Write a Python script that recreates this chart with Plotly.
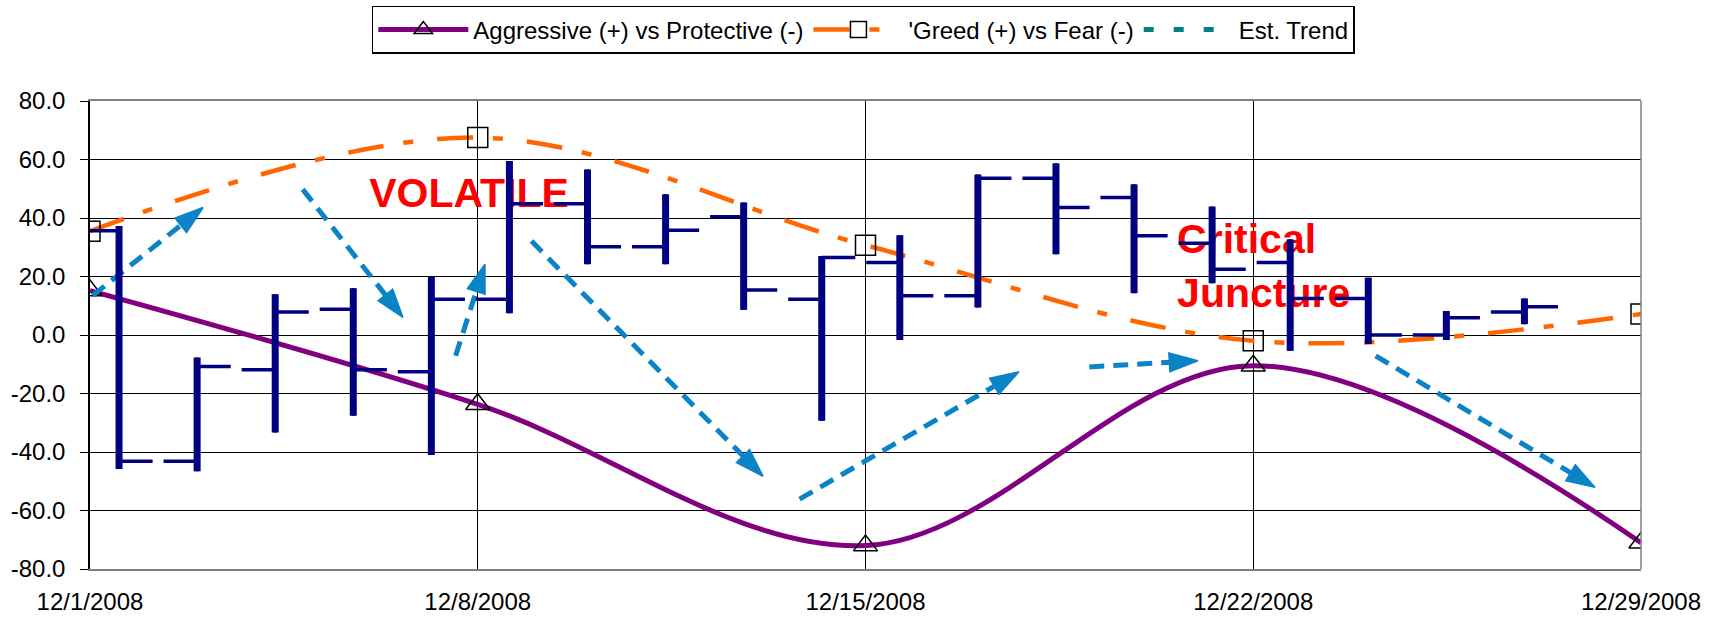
import plotly.graph_objects as go

# ---------------- data ----------------
WEEK_DATES = ["2008-12-01", "2008-12-08", "2008-12-15", "2008-12-22", "2008-12-29"]
WEEK_LABELS = ["12/1/2008", "12/8/2008", "12/15/2008", "12/22/2008", "12/29/2008"]
AGGRESSIVE = [15.2, -23.7, -72.0, -10.5, -71.0]
GREED = [35.5, 67.5, 30.7, -2.0, 7.2]

SESSIONS = list(range(1, 20))
OPEN = [35.6, -43.2, -11.9, 8.8, -12.6, 12.2, 44.9, 30.2, 40.4, 12.2,
        24.8, 13.4, 53.6, 47.0, 31.4, 24.8, 12.5, 0.0, 7.9]
HIGH = [37.3, -7.7, 13.9, 16.0, 19.9, 59.5, 56.6, 48.1, 45.3, 27.0,
        34.1, 54.9, 58.7, 51.5, 43.9, 32.7, 19.6, 8.2, 12.5]
LOW = [-45.8, -46.6, -33.3, -27.6, -41.0, 7.4, 24.2, 24.2, 8.6, -29.3,
       -1.7, 9.4, 27.6, 14.3, 17.7, -5.4, -3.1, -1.7, 3.7]
CLOSE = [-43.2, -10.8, 7.9, -11.9, 12.2, 44.9, 30.2, 35.8, 15.4, 26.5,
         13.4, 53.6, 43.6, 33.9, 22.5, 12.5, 0.0, 5.9, 9.7]

Y_TICKS = [-80, -60, -40, -20, 0, 20, 40, 60, 80]

# trend arrows drawn on the chart: (start date, start value) -> (tip date, tip value)
ARROWS = [
    (("2008-12-01 01:12", 13.5), ("2008-12-03 01:00", 43.6)),
    (("2008-12-04 20:10", 49.8), ("2008-12-06 15:36", 6.0)),
    (("2008-12-07 14:24", -7.1), ("2008-12-08 03:07", 24.2)),
    (("2008-12-08 23:17", 32.1), ("2008-12-13 03:36", -48.3)),
    (("2008-12-13 19:26", -56.1), ("2008-12-17 18:29", -12.6)),
    (("2008-12-19 00:58", -10.9), ("2008-12-21 00:00", -8.8)),
    (("2008-12-24 05:02", -7.1), ("2008-12-28 04:05", -52.1)),
]

LABELS = [
    ("VOLATILE", "2008-12-06 01:00", 47.4),
    ("Critical<br>Juncture", "2008-12-20 15:00", 22.3),
]

FONT = "Arial, 'Liberation Sans', sans-serif"
PURPLE = "#800080"
ORANGE = "#FF6600"
NAVY = "#000080"
ARROW_BLUE = "#0A84C6"
TEAL = "#008080"

fig = go.Figure()

fig.add_trace(go.Scatter(
    x=WEEK_DATES, y=AGGRESSIVE, name="Aggressive (+) vs Protective (-)",
    mode="lines+markers",
    line=dict(color=PURPLE, width=5, shape="spline", smoothing=1.0),
    marker=dict(symbol="triangle-up-open", size=21, color="black",
                line=dict(width=1.5, color="black")),
))
fig.add_trace(go.Scatter(
    x=WEEK_DATES, y=GREED, name="'Greed (+) vs Fear (-)",
    mode="lines+markers",
    line=dict(color=ORANGE, width=4.5, shape="spline", smoothing=1.0,
              dash="36px,20px,10px,24px"),
    marker=dict(symbol="square-open", size=20, color="black",
                line=dict(width=1.5, color="black")),
))
fig.add_trace(go.Scatter(
    x=[None], y=[None], name="Est. Trend", mode="lines",
    line=dict(color=TEAL, width=5, dash="10px,20px"),
))

for (x0, y0), (x1, y1) in ARROWS:
    fig.add_trace(go.Scatter(
        x=[x0, x1], y=[y0, y1], mode="lines+markers", showlegend=False,
        hoverinfo="skip",
        line=dict(color=ARROW_BLUE, width=5, dash="15px,9px"),
        marker=dict(symbol="arrow", size=[0, 30], angleref="previous",
                    color=ARROW_BLUE, opacity=1,
                    line=dict(width=1.5, color=ARROW_BLUE)),
    ))

for text, x, y in LABELS:
    fig.add_trace(go.Scatter(
        x=[x], y=[y], mode="text", text=[text], textposition="middle right",
        textfont=dict(family=FONT, size=41, color="#FF0000", weight="bold"),
        showlegend=False, hoverinfo="skip",
    ))

# high-low bars with open/close ticks (secondary session axis)
fig.add_trace(go.Ohlc(
    x=SESSIONS, open=OPEN, high=HIGH, low=LOW, close=CLOSE,
    xaxis="x2", yaxis="y", tickwidth=0.43, showlegend=False, hoverinfo="skip",
    increasing=dict(line=dict(color=NAVY, width=3.5)),
    decreasing=dict(line=dict(color=NAVY, width=3.5)),
))
fig.add_trace(go.Ohlc(
    x=SESSIONS, open=OPEN, high=HIGH, low=LOW, close=CLOSE,
    xaxis="x2", yaxis="y", tickwidth=0, showlegend=False, hoverinfo="skip",
    increasing=dict(line=dict(color=NAVY, width=7)),
    decreasing=dict(line=dict(color=NAVY, width=7)),
))

fig.update_layout(
    width=1713, height=622,
    margin=dict(l=90, r=72, t=101, b=53, pad=0, autoexpand=False),
    paper_bgcolor="white", plot_bgcolor="white",
    font=dict(family=FONT, size=24, color="black"),
    showlegend=True,
    legend=dict(
        orientation="h", x=0.4986, xanchor="center", y=1.203, yanchor="top",
        bordercolor="black", borderwidth=1.5, bgcolor="white",
        font=dict(family=FONT, size=24, color="black"),
        itemwidth=90, traceorder="normal",
    ),
    xaxis=dict(
        type="date", range=[WEEK_DATES[0], WEEK_DATES[-1]],
        tickvals=WEEK_DATES, ticktext=WEEK_LABELS,
        showgrid=True, gridcolor="black", gridwidth=1,
        showline=True, linecolor="#808080", linewidth=1.5, mirror=True,
        ticks="", ticklabelstandoff=10,
        tickfont=dict(family=FONT, size=24, color="black"),
        rangeslider=dict(visible=False),
    ),
    xaxis2=dict(
        overlaying="x", anchor="y", range=[0.628, 20.493], visible=False,
        type="linear", rangeslider=dict(visible=False),
    ),
    yaxis=dict(
        range=[-80, 80], tickvals=Y_TICKS, ticktext=[f"{v:.1f}" for v in Y_TICKS],
        showgrid=True, gridcolor="black", gridwidth=1,
        zeroline=True, zerolinecolor="black", zerolinewidth=1,
        showline=True, linecolor="black", linewidth=1.5,
        ticks="outside", ticklen=8, tickcolor="black", tickwidth=1,
        ticklabelstandoff=10,
        tickfont=dict(family=FONT, size=24, color="black"),
    ),
)

fig.add_shape(type="line", xref="paper", yref="paper", x0=1, x1=1, y0=0, y1=1,
              line=dict(color="#808080", width=1.5))

fig.write_html("out.html", config={"displayModeBar": False},
               post_script="document.body.style.margin='0';")
